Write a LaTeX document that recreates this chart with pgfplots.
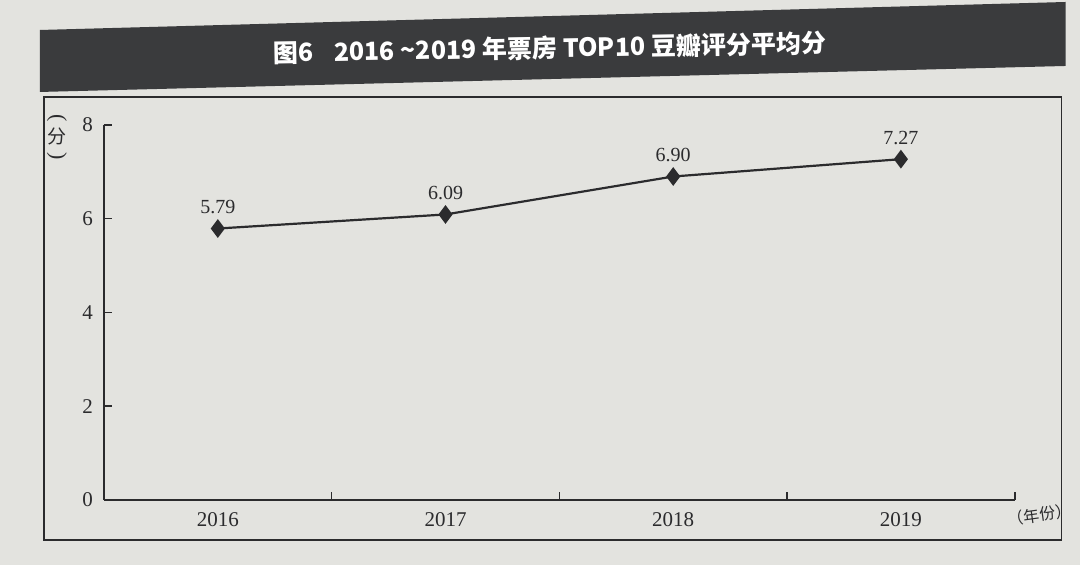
\documentclass[border=0pt]{standalone}
\usepackage{fontspec}
\setmainfont{Liberation Serif}
\newfontfamily\cjk{Noto Sans CJK SC}
\usepackage{pgfplots}
\pgfplotsset{compat=1.18}
\definecolor{paper}{HTML}{E3E3DF}
\definecolor{banner}{HTML}{3A3B3D}
\definecolor{ink}{HTML}{2B2B2D}
\begin{document}
\begin{tikzpicture}[x=0.5pt,y=0.5pt]
\fill[paper] (0,0) rectangle (1080,565);
\fill[banner] (40,535) -- (1066,563) -- (1066,499) -- (40,473) -- cycle;
\node[text=white,font=\cjk\bfseries\fontsize{12.5}{14}\selectfont,rotate=1] at (550,517) {图6\hspace{0.8em}2016 \textasciitilde2019 年票房 TOP10 豆瓣评分平均分};
\draw[ink,line width=0.7pt] (44,468) rectangle (1062,25);
\node[font=\fontsize{11}{11}\selectfont,text=ink,inner sep=0pt,rotate=-90] at (57,447) {(};
\node[font=\cjk\fontsize{9.5}{10.5}\selectfont,text=ink,inner sep=0pt] at (57,428) {分};
\node[font=\fontsize{11}{11}\selectfont,text=ink,inner sep=0pt,rotate=-90] at (57,409) {)};
\node[font=\cjk\fontsize{8}{9}\selectfont,text=ink,rotate=8] at (1040,50) {（年份）};
\begin{axis}[
  at={(52pt,32.5pt)}, anchor=south west,
  width=455.5pt, height=187.5pt, scale only axis,
  xmin=-0.5, xmax=3.5, ymin=0, ymax=8,
  axis lines=left, axis line style={-, ink, line width=1pt},
  ytick={0,2,4,6,8},
  xtick={0,1,2,3}, xticklabels={2016,2017,2018,2019},
  minor xtick={0.5,1.5,2.5,3.5},
  tick align=inside,
  major tick length=4pt, minor tick length=4pt,
  major x tick style={draw=none},
  every tick/.style={ink, line width=0.8pt},
  minor x tick style={ink, line width=0.8pt},
  tick label style={font=\fontsize{10.5}{11}\selectfont, text=ink},
  x tick label style={yshift=-3pt},
  y tick label style={xshift=-2pt},
  /pgf/number format/assume math mode=true,
  clip=false,
]
\addplot[ink, line width=1.1pt, mark=diamond*, mark size=3.8pt,
  mark options={fill=ink},
  nodes near coords,
  every node near coord/.append style={font=\fontsize{10}{11}\selectfont, text=ink, yshift=3.5pt,
    /pgf/number format/.cd, fixed, fixed zerofill, precision=2, assume math mode=true},
] coordinates {(0,5.79) (1,6.09) (2,6.90) (3,7.27)};
\end{axis}
\end{tikzpicture}
\end{document}
